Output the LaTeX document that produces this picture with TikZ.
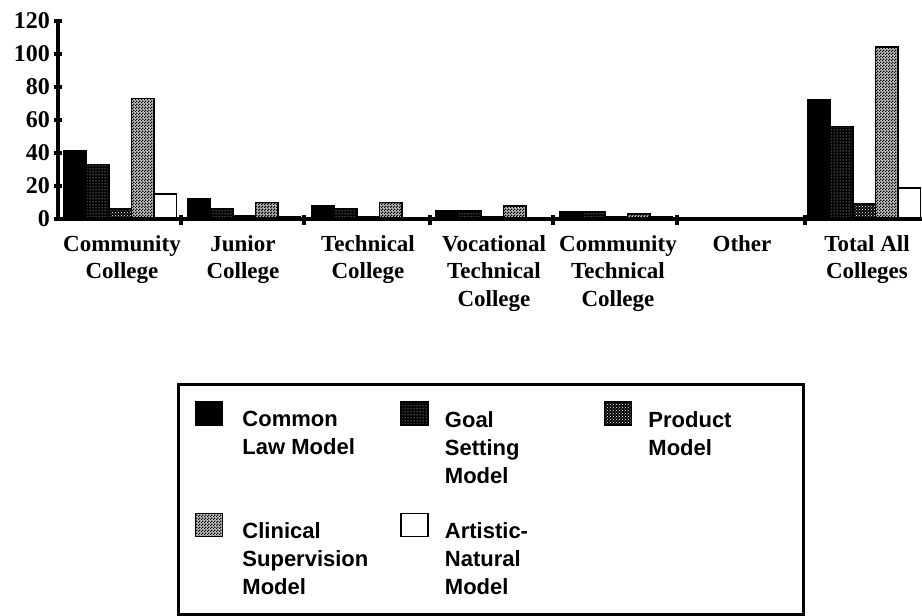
\documentclass[tikz,border=0pt]{standalone}
\usepackage{fontspec}
\setmainfont{Liberation Serif}
\setsansfont{Liberation Sans}
\usetikzlibrary{positioning, patterns}
\pgfdeclarepatternformonly{finecheck}{\pgfpointorigin}{\pgfqpoint{3pt}{3pt}}{\pgfqpoint{3pt}{3pt}}{%
  \pgfpathrectangle{\pgfpointorigin}{\pgfqpoint{1.6pt}{1.6pt}}%
  \pgfpathrectangle{\pgfqpoint{1.5pt}{1.5pt}}{\pgfqpoint{1.6pt}{1.6pt}}%
  \pgfusepath{fill}}

\begin{document}
\begin{tikzpicture}[x=1pt, y=1pt,
              axis/.style={line width=3.5pt},
              bar/.style={draw, line width=1.8pt},
              commonfill/.style={fill=black},
              goalfill/.style={preaction={fill=black}, pattern=dots, pattern color=white},
              productfill/.style={preaction={fill=black}, pattern=crosshatch dots, pattern color=white},
              clinicalfill/.style={preaction={fill=black!25}, pattern=finecheck, pattern color=black},
              artisticfill/.style={fill=white},
              catlabel/.style={font=\bfseries\fontsize{23}{27.5}\selectfont, align=center, inner sep=0pt, anchor=north},
              ticklabel/.style={font=\bfseries\fontsize{24}{27.5}\selectfont, inner sep=0pt, anchor=east},
              swatch/.style={
                draw, line width=1.5pt, %inner sep=1pt,
                minimum width=27pt, minimum height=23pt, inner sep=0pt
             },
              legtext/.style={font=\sffamily\bfseries\fontsize{22}{28}\selectfont, align=left, inner sep=0pt}
            ]
              \useasboundingbox (0,0) rectangle (922,616);
              \begin{scope}[shift={(0,397)}, y=1.65pt]
                \foreach \g/\a/\b/\c/\d/\e in {0/41/33/6/73/15, 1/12/6/2/10/1, 2/8/6/1/10/0.5, 3/5/5/1/8/0.5, 4/4/4/1/3/1, 5/0.5/0.5/0.5/0.5/0.5, 6/72/56/9/104/19}
                  \foreach \v/\s [count=\k from 0] in {\a/commonfill, \b/goalfill, \c/productfill, \d/clinicalfill, \e/artisticfill}
                    \draw[bar, \s] ({64+124*\g+22.5*\k},0) rectangle ++(22.5,\v);
              \end{scope}
              \draw[axis] (58,397) -- (922,397);
              \draw[axis] (58,397) -- (58,595);
              \foreach \x in {181,304,430,553,677,805}
                \draw[axis] (\x,391) -- (\x,401);
              \foreach \v in {0,20,...,120}{
                \draw[axis] (54,{397+1.65*\v}) -- (62,{397+1.65*\v});
                \node[ticklabel] (tick\v) at (50,{397+1.65*\v}) {\v};
              }
              \node[catlabel] (cc) at (122,381) {Community\\College};
              \node[catlabel] (jc) at (243,381) {Junior\\College};
              \node[catlabel] (tc) at (368,381) {Technical\\College};
              \node[catlabel] (vtc) at (494,381) {Vocational\\Technical\\College};
              \node[catlabel] (ctc) at (618,381) {Community\\Technical\\College};
              \node[catlabel] (oth) at (742,381) {Other};
              \node[catlabel] (tot) at (867,381) {Total All\\Colleges};

              \draw[line width=3pt] (178,1.5) rectangle (803,231);
              \node[swatch, commonfill] (common) at (209,202.5) {};
              \node[legtext, below right=10pt and 19pt of common.north east] (commontext) {Common\\Law Model};
              \node[swatch, goalfill, right=177pt of common] (goal) {};
              \node[legtext, below right=10pt and 16pt of goal.north east] (goaltext) {Goal\\Setting\\Model};
              \node[swatch, productfill, right=175pt of goal] (product) {};
              \node[legtext, below right=10pt and 16pt of product.north east] (producttext) {Product\\Model};
              \node[swatch, clinicalfill, below=87pt of common] (clinical) {};
              \node[legtext, below right=10pt and 19pt of clinical.north east] (clinicaltext) {Clinical\\Supervision\\Model};
              \node[swatch, artisticfill, right=177pt of clinical] (artistic) {};
              \node[legtext, below right=10pt and 16pt of artistic.north east] (artistictext) {Artistic-\\Natural\\Model};
            \end{tikzpicture}
\end{document}
